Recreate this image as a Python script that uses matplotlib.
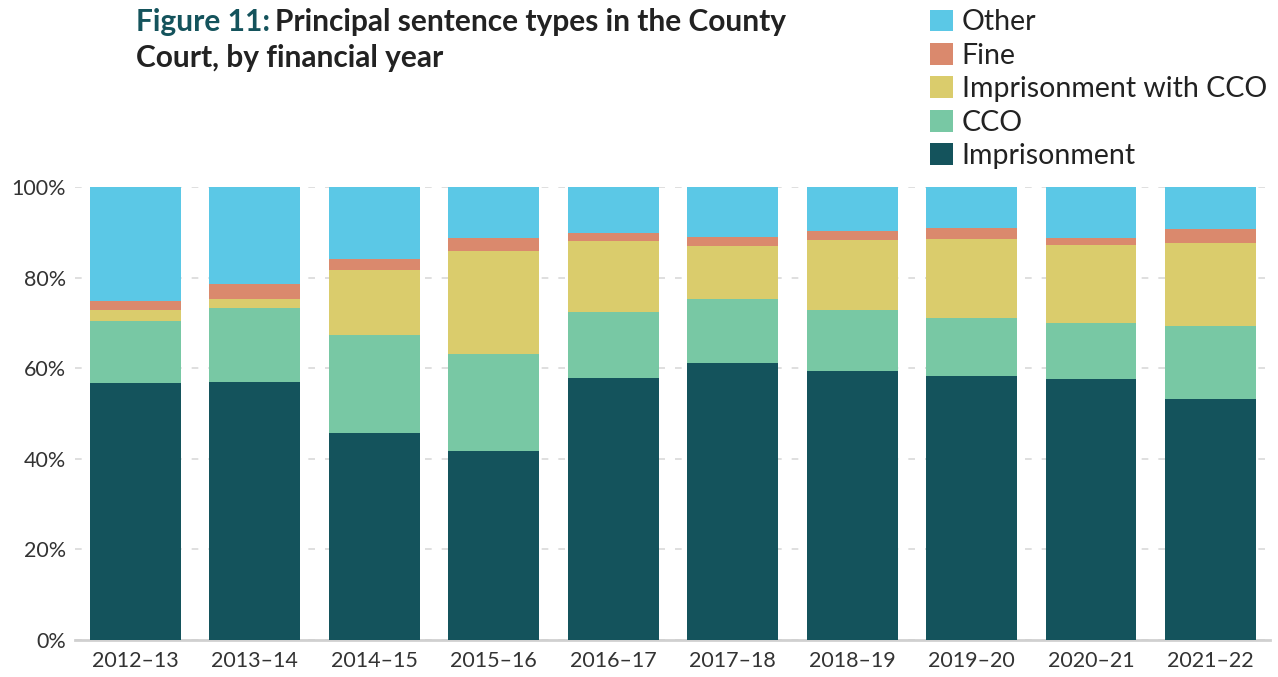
import matplotlib
matplotlib.use("Agg")
import matplotlib.pyplot as plt
import numpy as np
from matplotlib.patches import Patch

years = ["2012–13", "2013–14", "2014–15", "2015–16", "2016–17",
         "2017–18", "2018–19", "2019–20", "2020–21", "2021–22"]
imprisonment = [56.7, 57.0, 45.7, 41.7, 57.8, 61.1, 59.4, 58.3, 57.6, 53.2]
cco = [13.7, 16.3, 21.6, 21.4, 14.6, 14.2, 13.4, 12.8, 12.4, 16.1]
imp_with_cco = [2.4, 2.0, 14.4, 22.8, 15.7, 11.7, 15.5, 17.4, 17.2, 18.3]
fine = [2.0, 3.4, 2.4, 2.9, 1.7, 2.0, 2.0, 2.5, 1.5, 3.1]
other = [100 - a - b - c - d for a, b, c, d in zip(imprisonment, cco, imp_with_cco, fine)]

series = [("Imprisonment", imprisonment, "#14535c"),
          ("CCO", cco, "#78c8a4"),
          ("Imprisonment with CCO", imp_with_cco, "#dacc6c"),
          ("Fine", fine, "#da896d"),
          ("Other", other, "#5bc8e6")]

plt.rcParams['font.family'] = ['Lato', 'DejaVu Sans']

fig = plt.figure(figsize=(12.78, 6.77), dpi=100)
ax = fig.add_axes([0.059, 0.0547, 0.935, 0.669])

x = np.arange(len(years))
bottom = np.zeros(len(years))
for name, vals, col in series:
    ax.bar(x, vals, bottom=bottom, width=0.76, color=col, label=name, zorder=3)
    bottom += np.array(vals)

ax.set_xlim(-0.5, len(years) - 0.5)
ax.set_ylim(0, 100)
ax.set_yticks([0, 20, 40, 60, 80, 100])
ax.set_yticklabels([f"{v}%" for v in [0, 20, 40, 60, 80, 100]])
ax.set_xticks(x)
ax.set_xticklabels(years)
ax.tick_params(axis='both', length=0, labelsize=15.5, colors="#333333")
ax.tick_params(axis='x', pad=8)
ax.tick_params(axis='y', pad=7)
ax.yaxis.grid(True, color="#d9d9d9", linestyle=(0, (4, 6)), linewidth=1.2, zorder=0)
for s in ["left", "right", "top"]:
    ax.spines[s].set_visible(False)
ax.spines["bottom"].set_color("#d0d0d0")
ax.spines["bottom"].set_linewidth(2)

# Title
tsize = 21.5
t1 = fig.text(136 / 1278, 1 - 22 / 677, "Figure 11:", fontsize=tsize, fontweight='bold',
              color="#14535c", va='center', ha='left')
fig.canvas.draw()
bb = t1.get_window_extent()
fig.text(bb.x1 / 1278 + 0.004, 1 - 22 / 677, "Principal sentence types in the County",
         fontsize=tsize, fontweight='bold', color="#222222", va='center', ha='left')
fig.text(136 / 1278, 1 - 58 / 677, "Court, by financial year", fontsize=tsize,
         fontweight='bold', color="#222222", va='center', ha='left')

# Legend
handles = [Patch(facecolor=col, label=name) for name, vals, col in reversed(series)]
fig.legend(handles=handles, loc='upper left', bbox_to_anchor=(919 / 1278, 1.003),
           frameon=False, fontsize=20.5, handlelength=0.8, handleheight=0.8,
           handletextpad=0.3, labelspacing=0.26, borderaxespad=0, labelcolor="#222222")

fig.savefig("out.png", dpi=100)
